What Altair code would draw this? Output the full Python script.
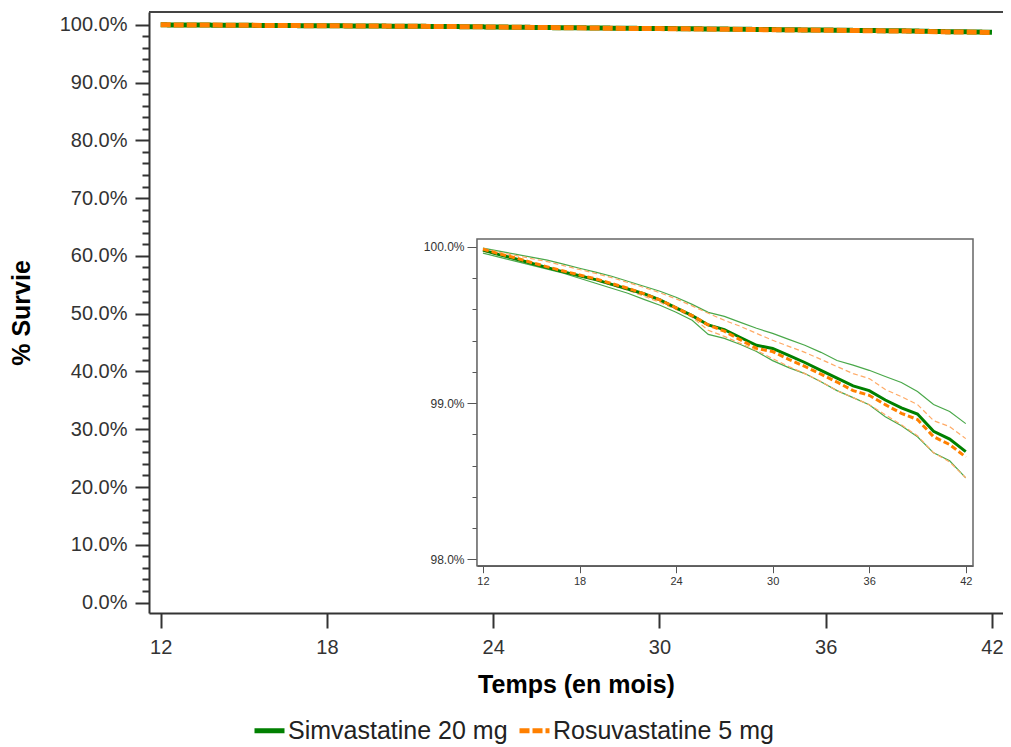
import altair as alt
import pandas as pd

# ---------------- data ----------------
months = list(range(12, 43))
SIM = "Simvastatine 20 mg"
ROS = "Rosuvastatine 5 mg"

simva = [99.979, 99.95, 99.924, 99.895, 99.867, 99.84, 99.815, 99.79, 99.76, 99.73,
         99.70, 99.66, 99.61, 99.56, 99.50, 99.47, 99.42, 99.37, 99.35, 99.305,
         99.26, 99.21, 99.16, 99.11, 99.08, 99.02, 98.97, 98.93, 98.82, 98.77, 98.69]
rosu = [99.985, 99.955, 99.93, 99.90, 99.872, 99.845, 99.82, 99.795, 99.765, 99.735,
        99.70, 99.66, 99.61, 99.56, 99.50, 99.46, 99.405, 99.35, 99.33, 99.28,
        99.235, 99.185, 99.135, 99.08, 99.05, 98.99, 98.935, 98.895, 98.785, 98.735, 98.655]
simva_hi = [99.992, 99.972, 99.953, 99.934, 99.915, 99.889, 99.863, 99.838, 99.812, 99.780,
            99.748, 99.716, 99.677, 99.632, 99.581, 99.555, 99.517, 99.479, 99.446, 99.408,
            99.370, 99.325, 99.273, 99.243, 99.210, 99.170, 99.132, 99.074, 98.991, 98.946, 98.869]
simva_lo = [99.960, 99.934, 99.908, 99.883, 99.857, 99.831, 99.799, 99.767, 99.735, 99.703,
            99.664, 99.626, 99.581, 99.530, 99.440, 99.414, 99.375, 99.330, 99.272, 99.227,
            99.189, 99.137, 99.080, 99.035, 98.990, 98.913, 98.855, 98.785, 98.682, 98.631, 98.522]
rosu_hi = [99.990, 99.965, 99.945, 99.925, 99.905, 99.880, 99.855, 99.830, 99.803, 99.772,
           99.740, 99.706, 99.667, 99.622, 99.575, 99.530, 99.491, 99.446, 99.402, 99.363,
           99.325, 99.280, 99.234, 99.189, 99.157, 99.087, 99.042, 98.991, 98.888, 98.850, 98.773]
rosu_lo = [99.972, 99.947, 99.921, 99.895, 99.870, 99.844, 99.818, 99.786, 99.754, 99.722,
           99.684, 99.645, 99.600, 99.549, 99.466, 99.427, 99.382, 99.337, 99.285, 99.234,
           99.189, 99.138, 99.080, 99.035, 98.990, 98.926, 98.861, 98.791, 98.682, 98.624, 98.522]

x_ticks = [12, 18, 24, 30, 36, 42]
y_major = list(range(0, 101, 10))
y_minor = [v for v in range(0, 101, 2) if v % 10]
inset_y_major = [98.0, 99.0, 100.0]
inset_y_minor = [round(98 + 0.2 * i, 1) for i in range(11) if i not in (0, 5, 10)]

# ---------------- layout / style ----------------
W, H = 854, 601
MAIN_XD = [11.578, 42.398]
MAIN_YD = [-1.8, 102.2]
IN_XD = [11.63, 42.45]
IN_XR = [328, 824]
IN_YD = [97.96, 100.05]
IN_YR = [553.7, 227]

GREEN = "#008000"
ORANGE = "#ff8000"
GREEN_T = "#4aa84a"
ORANGE_T = "#ffaa66"
AX = "#333333"
FONT = "Liberation Sans"
pct = "format(datum.value, '.1f') + '%'"

main_df = pd.DataFrame({
    "mois": months * 2,
    "survie": simva + rosu,
    "traitement": [SIM] * len(months) + [ROS] * len(months),
})
ci_df = pd.DataFrame({
    "mois": months * 4,
    "survie": simva_hi + simva_lo + rosu_hi + rosu_lo,
    "groupe": ["s"] * (2 * len(months)) + ["r"] * (2 * len(months)),
    "borne": ["hi"] * len(months) + ["lo"] * len(months) + ["hi"] * len(months) + ["lo"] * len(months),
})
top_df = pd.DataFrame({"x0": [MAIN_XD[0]], "x1": [MAIN_XD[1]], "y": [MAIN_YD[1]]})
frame_df = pd.DataFrame({"x0": [IN_XD[0]], "x1": [IN_XD[1]], "y0": [IN_YD[0]], "y1": [IN_YD[1]]})

legend = alt.Legend(title=None, orient="none", legendX=103, legendY=701, direction="horizontal",
                    labelFontSize=25, labelColor="#222", symbolType="stroke", symbolSize=900,
                    symbolStrokeWidth=5, labelOffset=1, columnPadding=1, labelFont=FONT,
                    labelLimit=0)
color = alt.Color("traitement:N", scale=alt.Scale(domain=[SIM, ROS], range=[GREEN, ORANGE]), legend=legend)
dash = alt.StrokeDash("traitement:N", scale=alt.Scale(domain=[SIM, ROS], range=[[1, 0], [10, 3]]), legend=legend)

mxs = alt.Scale(domain=MAIN_XD, nice=False, zero=False)
mys = alt.Scale(domain=MAIN_YD, nice=False, zero=False)

main_x_axis = alt.Axis(values=x_ticks, title="Temps (en mois)", titleFontSize=25, titleFontWeight="bold",
                       titleColor="#000", titlePadding=15, labelFontSize=20, labelColor=AX, labelPadding=9,
                       tickSize=15, tickWidth=2, tickColor=AX, domainColor=AX, domainWidth=2,
                       grid=False, labelFlush=False, format="d", orient="bottom")
main_y_axis = alt.Axis(values=y_major, labelExpr=pct, title="% Survie", titleFontSize=25,
                       titleFontWeight="bold", titleColor="#000", titlePadding=25, labelFontSize=20,
                       labelColor=AX, labelPadding=8, tickSize=14, tickWidth=2, tickColor=AX,
                       domainColor=AX, domainWidth=2, grid=False, orient="left")
main_y_minor = alt.Axis(values=y_minor, labels=False, title=None, tickSize=7, tickWidth=2, tickColor=AX,
                        domain=False, grid=False, orient="left")

mx = alt.X("mois:Q", scale=mxs, axis=main_x_axis)

green_main = alt.Chart(main_df).transform_filter(alt.datum.traitement == SIM).mark_line(strokeWidth=5).encode(
    x=mx,
    y=alt.Y("survie:Q", scale=mys, axis=main_y_axis),
    color=color, strokeDash=dash,
)
orange_main = alt.Chart(main_df).transform_filter(alt.datum.traitement == ROS).mark_line(strokeWidth=5).encode(
    x=mx,
    y=alt.Y("survie:Q", scale=mys, axis=main_y_minor),
    color=color, strokeDash=dash,
)
top_rule = alt.Chart(top_df).mark_rule(color="#444", strokeWidth=2).encode(
    x=alt.X("x0:Q", scale=mxs, axis=main_x_axis), x2="x1:Q",
    y=alt.Y("y:Q", scale=mys, axis=None),
)
main_layer = alt.layer(green_main, orange_main, top_rule).resolve_axis(y="independent")

# ---------------- inset ----------------
ixs = alt.Scale(domain=IN_XD, range=IN_XR, nice=False, zero=False)
iys = alt.Scale(domain=IN_YD, range=IN_YR, nice=False, zero=False)
in_x_axis = alt.Axis(values=x_ticks, orient="bottom", offset=-(H - IN_YR[0]), tickSize=7, tickColor="#555",
                     domainColor="#555", domainWidth=1.5, labelFontSize=11, labelColor=AX, labelPadding=3,
                     title=None, grid=False, labelFlush=False, format="d")
in_y_axis = alt.Axis(values=inset_y_major, orient="left", offset=-IN_XR[0], tickSize=10, tickColor="#555",
                     domainColor="#555", domainWidth=1.5, labelFontSize=12, labelColor=AX, labelPadding=3,
                     labelExpr=pct, title=None, grid=False)
in_y_minor = alt.Axis(values=inset_y_minor, orient="left", offset=-IN_XR[0], tickSize=5, tickColor="#555",
                      labels=False, domain=False, title=None, grid=False)

ix = alt.X("mois:Q", scale=ixs, axis=in_x_axis)

frame = alt.Chart(frame_df).mark_rect(fill="white", stroke="#666", strokeWidth=1.5).encode(
    x=alt.X("x0:Q", scale=ixs, axis=in_x_axis), x2="x1:Q",
    y=alt.Y("y0:Q", scale=iys, axis=in_y_axis), y2="y1:Q",
)
green_ci = alt.Chart(ci_df).transform_filter(alt.datum.groupe == "s").mark_line(
    color=GREEN_T, strokeWidth=1.2).encode(
    x=ix,
    y=alt.Y("survie:Q", scale=iys, axis=in_y_minor),
    detail="borne:N",
)
orange_ci = alt.Chart(ci_df).transform_filter(alt.datum.groupe == "r").mark_line(
    color=ORANGE_T, strokeWidth=1.2, strokeDash=[5, 3]).encode(
    x=ix,
    y=alt.Y("survie:Q", scale=iys, axis=None),
    detail="borne:N",
)
green_in = alt.Chart(main_df).transform_filter(alt.datum.traitement == SIM).mark_line(
    color=GREEN, strokeWidth=3).encode(
    x=ix,
    y=alt.Y("survie:Q", scale=iys, axis=None),
)
orange_in = alt.Chart(main_df).transform_filter(alt.datum.traitement == ROS).mark_line(
    color=ORANGE, strokeWidth=3, strokeDash=[6, 3]).encode(
    x=ix,
    y=alt.Y("survie:Q", scale=iys, axis=None),
)
inset_layer = alt.layer(frame, green_ci, orange_ci, green_in, orange_in).resolve_axis(y="independent")

chart = alt.layer(main_layer, inset_layer).resolve_scale(
    x="independent", y="independent"
).properties(
    width=W, height=H,
    autosize=alt.AutoSizeParams(type="none"),
    padding={"left": 141, "top": 4, "right": 0, "bottom": 134},
).configure(font=FONT).configure_view(stroke=None)

chart.save("out.html", embed_options={"renderer": "svg", "actions": False})
